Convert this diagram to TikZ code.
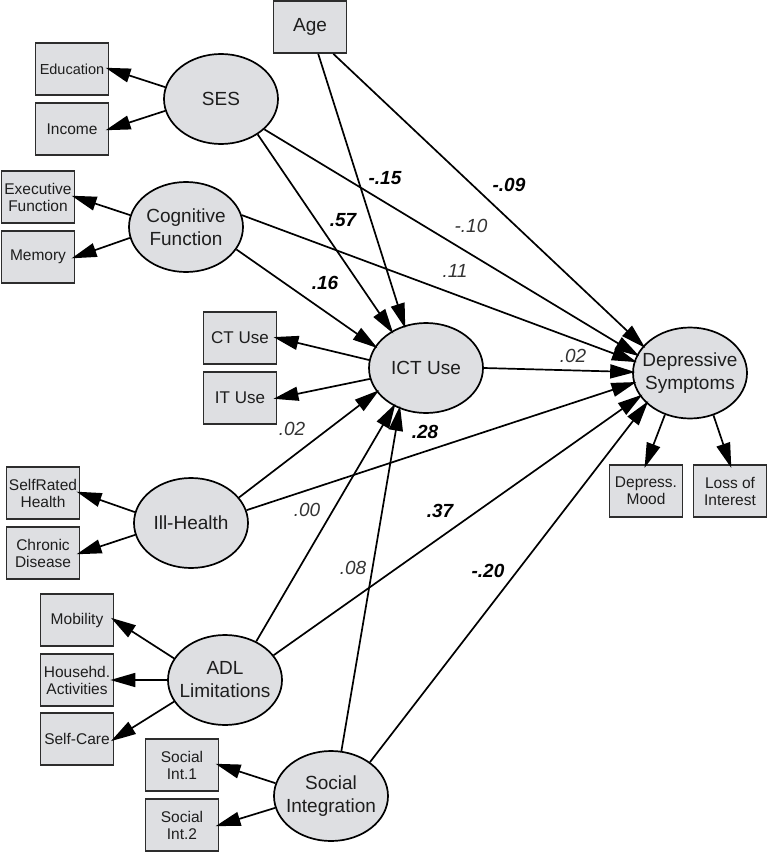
\documentclass[tikz,border=0pt]{standalone}
\usepackage{fontspec}
\setmainfont{Liberation Sans}
\usetikzlibrary{arrows.meta,shapes.geometric}
\definecolor{fillg}{RGB}{222,223,226}
\definecolor{boxline}{RGB}{45,45,45}
\definecolor{txtc}{RGB}{30,30,30}
\begin{document}
\begin{tikzpicture}[x=1pt,y=-1pt,
 lat/.style={ellipse,draw=black,line width=1.7pt,fill=fillg,minimum width=114pt,minimum height=90pt,inner sep=0pt},
 lt/.style={align=center,font=\fontsize{19}{23}\selectfont,text=txtc},
 obs/.style={rectangle,draw=boxline,line width=1.7pt,fill=fillg,minimum width=73pt,minimum height=52pt,inner sep=0pt,align=center,font=\fontsize{15.5}{17}\selectfont,text=txtc},
 arr/.style={line width=1.7pt,-{Triangle[length=25pt,width=14pt]},shorten >=-3pt},
 ind/.style={arr,shorten >=-4pt},
 coef/.style={font=\fontsize{19}{19}\selectfont\itshape,text=black!80},
 coefb/.style={font=\fontsize{19}{19}\selectfont\bfseries\itshape,text=black}]
\useasboundingbox (0,0) rectangle (769,853);

% observed boxes
\node[obs,font=\fontsize{19}{21}\selectfont] (age) at (310,27) {Age};
\node[obs,font=\fontsize{14.5}{17}\selectfont] (edu) at (72,69) {Education};
\node[obs] (inc) at (72,129) {Income};
\node[obs] (exe) at (38,197) {Executive\\Function};
\node[obs] (mem) at (38,257) {Memory};
\node[obs,font=\fontsize{17}{19}\selectfont] (ct) at (240,338) {CT Use};
\node[obs,font=\fontsize{17}{19}\selectfont] (it) at (240,398) {IT Use};
\node[obs] (srh) at (43,493) {SelfRated\\Health};
\node[obs] (chd) at (43,553) {Chronic\\Disease};
\node[obs] (mob) at (77,620) {Mobility};
\node[obs] (hh) at (77,680) {Househd.\\Activities};
\node[obs] (sc) at (77,739) {Self-Care};
\node[obs] (si1) at (182,765) {Social\\Int.1};
\node[obs] (si2) at (182,825) {Social\\Int.2};
\node[obs] (mood) at (646,491) {Depress.\\Mood};
\node[obs] (loss) at (730,491) {Loss of\\Interest};

% latent ellipses
\node[lat,label={[lt]center:SES}] (ses) at (221,99) {};
\node[lat,label={[lt]center:Cognitive\\Function}] (cog) at (186,227) {};
\node[lat,label={[lt]center:ICT Use}] (ict) at (426,368) {};
\node[lat,minimum height=91pt,label={[lt]center:Depressive\\Symptoms}] (dep) at (690,373) {};
\node[lat,label={[lt]center:Ill-Health}] (ill) at (191,523) {};
\node[lat,label={[lt]center:ADL\\Limitations}] (adl) at (225,680) {};
\node[lat,label={[lt]center:Social\\Integration}] (soc) at (331,796) {};

% measurement arrows
\draw[ind] (ses.168) -- (edu.east);
\draw[ind] (ses.192) -- (inc.east);
\draw[ind] (cog.168) -- (exe.east);
\draw[ind] (cog.191) -- (mem.east);
\draw[ind] (ict.172) -- (ct.east);
\draw[ind] (ict.191) -- (it.east);
\draw[ind] (ill.169) -- (srh.east);
\draw[ind] (ill.192) -- (chd.east);
\draw[ind] (adl.157) -- (mob.east);
\draw[ind] (adl.180) -- (hh.east);
\draw[ind] (adl.203) -- (sc.east);
\draw[ind] (soc.167) -- (si1.east);
\draw[ind] (soc.192) -- (si2.east);
\draw[ind] (dep.239) -- (mood.north);
\draw[ind] (dep.-61) -- (loss.north);

% structural arrows to ICT
\draw[arr] (age.-73) -- (ict.117);
\draw[arr] (ses.-44) -- (ict.133);
\draw[arr] (cog.-24) -- (ict.157);
\draw[arr] (ill.28) -- (ict.206);
\draw[arr] (adl.51) -- (ict.230);
\draw[arr] (soc.77) -- (ict.237);

% structural arrows to depressive symptoms
\draw[arr] (age.-49) -- (dep.150);
\draw[arr] (ses.-35) -- (dep.161);
\draw[arr] (cog.12) -- (dep.168);
\draw[arr] (ict.0) -- (dep.179);
\draw[arr] (ill.13) -- (dep.190);
\draw[arr] (adl.27) -- (dep.205);
\draw[arr] (soc.41) -- (dep.215);

% coefficients
\node[coefb] (l1) at (385,178) {-.15};
\node[coefb] (l2) at (509,185) {-.09};
\node[coef]  (l3) at (471,226) {-.10};
\node[coefb] (l4) at (343,220) {.57};
\node[coef]  (l5) at (455,271) {.11};
\node[coefb] (l6) at (325,283) {.16};
\node[coef]  (l7) at (573,356) {.02};
\node[coef]  (l8) at (292,429) {.02};
\node[coefb] (l9) at (425,432) {.28};
\node[coef]  (l10) at (307,510) {.00};
\node[coefb] (l11) at (440,511) {.37};
\node[coef]  (l12) at (353,568) {.08};
\node[coefb] (l13) at (488,571) {-.20};
\end{tikzpicture}
\end{document}
